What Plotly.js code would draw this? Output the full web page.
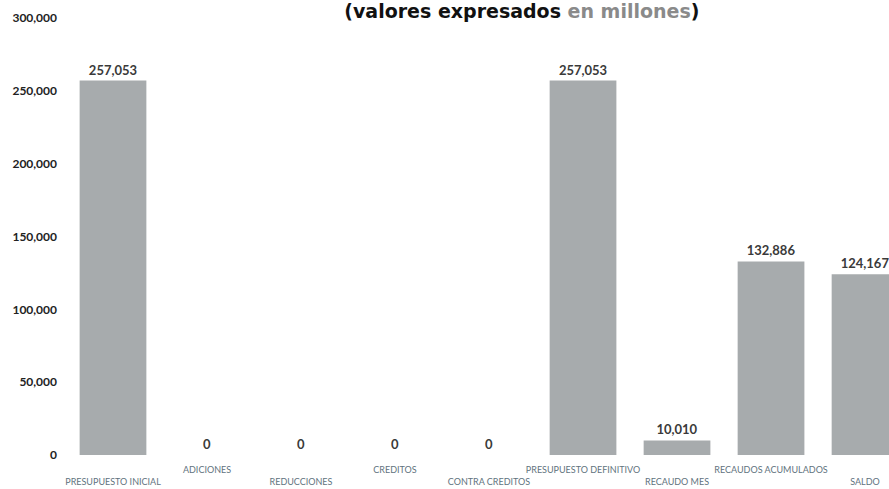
<!DOCTYPE html>
<html>
<head>
<meta charset="utf-8">
<script src="https://cdn.plot.ly/plotly-3.0.1.min.js"></script>
<style>html,body{margin:0;padding:0;background:#fff;}#chart{width:889px;height:489px;}</style>
</head>
<body>
<div id="chart"></div>
<script>
const categories = ["PRESUPUESTO INICIAL","ADICIONES","REDUCCIONES","CREDITOS","CONTRA CREDITOS","PRESUPUESTO DEFINITIVO","RECAUDO MES","RECAUDOS ACUMULADOS","SALDO"];
const values = [257053, 0, 0, 0, 0, 257053, 10010, 132886, 124167];
const valueLabels = ["257,053","0","0","0","0","257,053","10,010","132,886","124,167"];
const yTickValues = [0, 50000, 100000, 150000, 200000, 250000, 300000];
const yTickLabels = ["0","50,000","100,000","150,000","200,000","250,000","300,000"];

const tickText = categories.map((c, i) => (i % 2 === 0 ? "<br>" + c : c));

const trace = {
  type: "bar",
  x: categories,
  y: values,
  text: valueLabels,
  textposition: "outside",
  cliponaxis: false,
  textfont: {family: "Lato, 'Open Sans', sans-serif", size: 13, color: "#3a3a3a", weight: "bold"},
  marker: {color: "#a7abad"},
  hoverinfo: "none"
};

const layout = {
  width: 889, height: 489,
  margin: {l: 66, r: 0, t: 18, b: 34},
  paper_bgcolor: "#ffffff",
  plot_bgcolor: "#ffffff",
  showlegend: false,
  bargap: 0.29,
  title: {
    text: "<b>(valores expresados <span style='color:#8a8a8a'>en millones</span>)</b>",
    font: {family: "'DejaVu Sans', sans-serif", size: 19, color: "#111111"},
    x: 0.587, xref: "container", xanchor: "center",
    y: 0.977, yref: "container", yanchor: "middle"
  },
  xaxis: {
    range: [-0.5, 8.255],
    tickmode: "array",
    tickvals: categories,
    ticktext: tickText,
    tickangle: 0,
    tickfont: {family: "Lato, 'Open Sans', sans-serif", size: 9, color: "#5f737e"},
    ticklabelstandoff: 8,
    showline: false, showgrid: false, zeroline: false, ticks: ""
  },
  yaxis: {
    range: [0, 300000],
    tickmode: "array",
    tickvals: yTickValues,
    ticktext: yTickLabels,
    tickfont: {family: "Lato, 'Open Sans', sans-serif", size: 12, color: "#222222", weight: "bold"},
    ticklabelstandoff: 8,
    showline: false, showgrid: false, zeroline: false, ticks: ""
  }
};

Plotly.newPlot("chart", [trace], layout, {staticPlot: true, displayModeBar: false});
</script>
</body>
</html>
